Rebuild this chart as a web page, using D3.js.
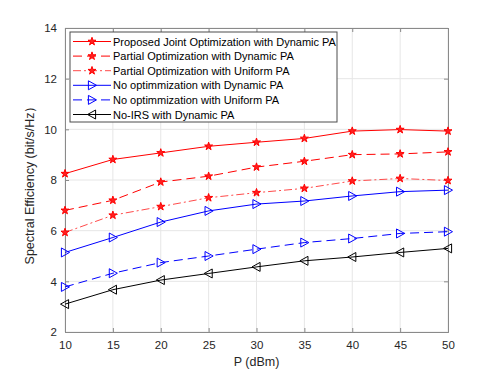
<!DOCTYPE html>
<html>
<head>
<meta charset="utf-8">
<script src="https://cdn.jsdelivr.net/npm/d3@7"></script>
<style>
  body { margin: 0; background: #fff; }
  text { font-family: "Liberation Sans", Arial, sans-serif; }
</style>
</head>
<body>
<div class="chart"></div>
<script>
// data
const powers = [10, 15, 20, 25, 30, 35, 40, 45, 50];
const jointDynamic = [8.25, 8.81, 9.07, 9.33, 9.49, 9.64, 9.93, 9.99, 9.93];
const partialDynamic = [6.8, 7.2, 7.92, 8.15, 8.51, 8.74, 9.0, 9.03, 9.11];
const partialUniform = [5.93, 6.61, 6.95, 7.3, 7.5, 7.67, 7.96, 8.06, 7.98];
const noOptDynamic = [5.14, 5.73, 6.34, 6.78, 7.05, 7.17, 7.37, 7.54, 7.6];
const noOptUniform = [3.78, 4.32, 4.74, 5.0, 5.27, 5.53, 5.69, 5.89, 5.96];
const noIrsDynamic = [3.1, 3.67, 4.05, 4.31, 4.57, 4.81, 4.96, 5.14, 5.3];
const xTicks = [10, 15, 20, 25, 30, 35, 40, 45, 50];
const yTicks = [2, 4, 6, 8, 10, 12, 14];

const series = [
  { name: "Proposed Joint Optimization with Dynamic PA", values: jointDynamic, color: "#ff0000", dash: null, marker: "star" },
  { name: "Partial Optimization with Dynamic PA", values: partialDynamic, color: "#ff0000", dash: "9,5", marker: "star" },
  { name: "Partial Optimization with Uniform PA", values: partialUniform, color: "#ff4a4a", dash: "8,3,2,3", marker: "star" },
  { name: "No optimmization with Dynamic PA", values: noOptDynamic, color: "#0000ff", dash: null, marker: "right" },
  { name: "No optimmization with Uniform PA", values: noOptUniform, color: "#0000ff", dash: "9,5", marker: "right" },
  { name: "No-IRS with Dynamic PA", values: noIrsDynamic, color: "#000000", dash: null, marker: "left" }
];

const W = 498, H = 374;
const margin = { top: 28, right: 50, bottom: 42, left: 65 };
const width = W - margin.left - margin.right,
  height = H - margin.top - margin.bottom;

const svg = d3.select(".chart").append("svg")
  .attr("width", W).attr("height", H)
  .append("g")
  .attr("transform", "translate(" + margin.left + "," + margin.top + ")");

const x = d3.scaleLinear().domain([10, 50]).range([0, width]);
const y = d3.scaleLinear().domain([2, 14]).range([height, 0]);

// grid
svg.append("g").selectAll("line").data(xTicks).enter().append("line")
  .attr("x1", d => x(d)).attr("x2", d => x(d))
  .attr("y1", 0).attr("y2", height)
  .attr("stroke", "#e6e6e6").attr("stroke-width", 1);
svg.append("g").selectAll("line").data(yTicks).enter().append("line")
  .attr("x1", 0).attr("x2", width)
  .attr("y1", d => y(d)).attr("y2", d => y(d))
  .attr("stroke", "#e6e6e6").attr("stroke-width", 1);

// axes (ticks inside, MATLAB style)
const xAxis = d3.axisBottom(x).tickValues(xTicks).tickSize(-4).tickPadding(9);
const yAxis = d3.axisLeft(y).tickValues(yTicks).tickSize(-4).tickPadding(8);
const xTop = d3.axisTop(x).tickValues(xTicks).tickSize(-4).tickFormat("");
const yRight = d3.axisRight(y).tickValues(yTicks).tickSize(-4).tickFormat("");

function styleAxis(g) {
  g.selectAll("path, line").attr("stroke", "#8a8a8a");
  g.selectAll("text").attr("fill", "#262626").style("font-size", "11.5px")
    .style("font-family", "'Liberation Sans', Arial, sans-serif");
}
svg.append("g").attr("transform", "translate(0," + height + ")").call(xAxis).call(styleAxis);
svg.append("g").call(yAxis).call(styleAxis);
svg.append("g").call(xTop).call(styleAxis);
svg.append("g").attr("transform", "translate(" + width + ",0)").call(yRight).call(styleAxis);

// markers
const star = d3.symbol().type(d3.symbolStar).size(20);
function triangle(dir, r) {
  if (dir === "right") return "M" + (-r * 0.8) + "," + (-r) + "L" + r + ",0L" + (-r * 0.8) + "," + r + "Z";
  return "M" + (r * 0.8) + "," + (-r) + "L" + (-r) + ",0L" + (r * 0.8) + "," + r + "Z";
}
function drawMarker(g, s) {
  if (s.marker === "star") {
    g.append("path").attr("d", star())
      .attr("fill", "#ff2020").attr("stroke", "#ff0000").attr("stroke-width", 1);
  } else {
    g.append("path").attr("d", triangle(s.marker, 4.5))
      .attr("fill", "none").attr("stroke", s.color).attr("stroke-width", 1);
  }
}

const line = d3.line().x((d, i) => x(powers[i])).y(d => y(d));

series.forEach(s => {
  svg.append("path").datum(s.values)
    .attr("d", line)
    .attr("fill", "none")
    .attr("stroke", s.color)
    .attr("stroke-width", 1)
    .attr("stroke-dasharray", s.dash);
  s.values.forEach((v, i) => {
    const g = svg.append("g").attr("transform", "translate(" + x(powers[i]) + "," + y(v) + ")");
    drawMarker(g, s);
  });
});

// legend
const legend = svg.append("g").attr("transform", "translate(5,4)");
legend.append("rect").attr("width", 267).attr("height", 90)
  .attr("fill", "#fff").attr("stroke", "#4d4d4d").attr("stroke-width", 1);
series.forEach((s, i) => {
  const row = legend.append("g").attr("transform", "translate(0," + (9.5 + i * 14.6) + ")");
  row.append("line").attr("x1", 3).attr("x2", 41).attr("y1", 0).attr("y2", 0)
    .attr("stroke", s.color).attr("stroke-width", 1).attr("stroke-dasharray", s.dash);
  drawMarker(row.append("g").attr("transform", "translate(22,0)"), s);
  row.append("text").attr("x", 43).attr("y", 4)
    .style("font-size", "11px").attr("fill", "#000").text(s.name);
});

// axis labels
svg.append("text")
  .attr("x", width / 2).attr("y", height + 34)
  .attr("text-anchor", "middle").style("font-size", "12.5px").attr("fill", "#262626")
  .text("P (dBm)");
svg.append("text")
  .attr("transform", "translate(-31," + (height / 2 + 2) + ") rotate(-90)")
  .attr("text-anchor", "middle").style("font-size", "12.5px").attr("fill", "#262626")
  .text("Spectral Efficiency (bit/s/Hz\uFF09");
</script>
</body>
</html>
